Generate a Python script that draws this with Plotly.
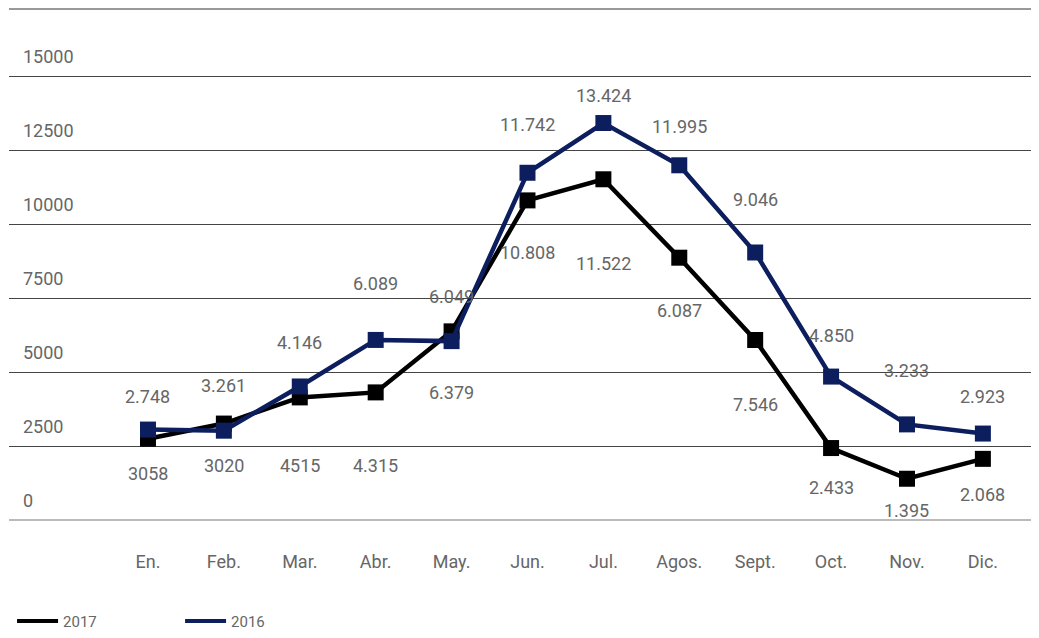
import plotly.graph_objects as go

# ---------------- data ----------------
months = ["En.", "Feb.", "Mar.", "Abr.", "May.", "Jun.", "Jul.", "Agos.", "Sept.", "Oct.", "Nov.", "Dic."]
v2017 = [2748, 3261, 4146, 4315, 6379, 10808, 11522, 8870, 6087, 2433, 1395, 2068]
v2016 = [3058, 3020, 4515, 6089, 6049, 11742, 13424, 11995, 9046, 4850, 3233, 2923]

# value labels as printed on the original (upper row / lower row)
top_labels = ["2.748", "3.261", "4.146", "6.089", "6.049", "11.742", "13.424", "11.995", "9.046", "4.850", "3.233", "2.923"]
bottom_labels = ["3058", "3020", "4515", "4.315", "6.379", "10.808", "11.522", "6.087", "7.546", "2.433", "1.395", "2.068"]

# where the labels sit (in axis units)
top_label_y = [4170, 4540, 6000, 7990, 7550, 13360, 14340, 13290, 10830, 6230, 5050, 4170]
bottom_label_y = [1570, 1840, 1840, 1840, 4300, 9040, 8670, 7080, 3900, 1100, 320, 860]

BLACK = "#000000"
NAVY = "#0d1e5e"
TXT = "#666666"
FONT = "Roboto"

fig = go.Figure()

fig.add_trace(go.Scatter(x=months, y=v2017, mode="lines+markers", showlegend=False,
                         line=dict(color=BLACK, width=4.5),
                         marker=dict(symbol="square", size=16, color=BLACK)))
fig.add_trace(go.Scatter(x=months, y=v2016, mode="lines+markers", showlegend=False,
                         line=dict(color=NAVY, width=4.5),
                         marker=dict(symbol="square", size=16, color=NAVY)))

# legend-only entries (lines without markers)
fig.add_trace(go.Scatter(x=[None], y=[None], mode="lines", name="2017",
                         line=dict(color=BLACK, width=4)))
fig.add_trace(go.Scatter(x=[None], y=[None], mode="lines", name="2016",
                         line=dict(color=NAVY, width=4)))

for m, t, ty, b, by in zip(months, top_labels, top_label_y, bottom_labels, bottom_label_y):
    fig.add_annotation(x=m, y=ty, text=t, showarrow=False, font=dict(family=FONT, size=18, color=TXT))
    fig.add_annotation(x=m, y=by, text=b, showarrow=False, font=dict(family=FONT, size=18, color=TXT))

# top border line
fig.add_shape(type="line", xref="paper", yref="paper", x0=0, x1=1, y0=1, y1=1,
              line=dict(color="#777777", width=1.5))

fig.update_layout(
    width=1023, height=622,
    margin=dict(l=1, r=0, t=1, b=109.5, autoexpand=False),
    paper_bgcolor="white", plot_bgcolor="white",
    font=dict(family=FONT, size=18, color=TXT),
    xaxis=dict(range=[-1.831, 11.634], showgrid=False, zeroline=False, showline=False,
               automargin=False,
               ticks="outside", ticklen=25, tickcolor="rgba(0,0,0,0)",
               tickfont=dict(size=18, color=TXT)),
    yaxis=dict(range=[0, 17280], tickvals=[0, 2500, 5000, 7500, 10000, 12500, 15000],
               tickformat="d", automargin=False,
               showgrid=True, gridcolor="#444444", gridwidth=1,
               zeroline=True, zerolinecolor="#bbbbbb", zerolinewidth=1.5,
               ticklabelposition="inside top", ticklabelstandoff=11, ticklabelshift=-7,
               tickfont=dict(size=18, color=TXT)),
    legend=dict(orientation="h", x=0.003, xanchor="left", y=-0.198, yanchor="middle",
                itemwidth=41, entrywidth=112, font=dict(size=15, color=TXT),
                bgcolor="rgba(0,0,0,0)"),
)

fig.write_html("out.html")
